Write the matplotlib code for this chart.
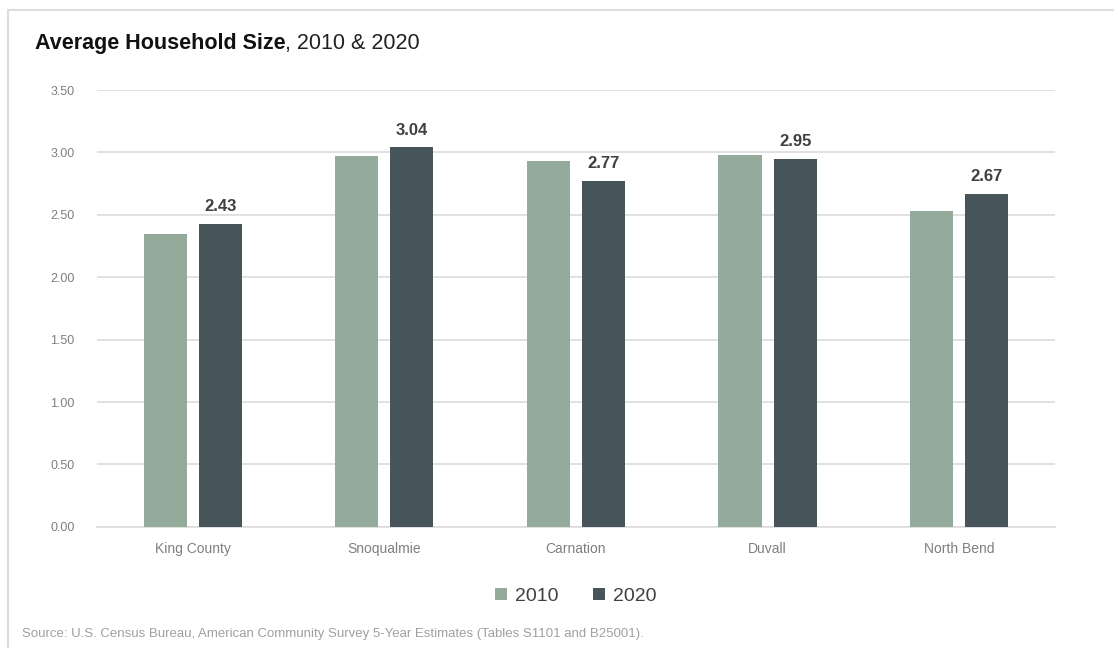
import matplotlib
matplotlib.use("Agg")
import matplotlib.pyplot as plt
import numpy as np

# data
places = ["King County", "Snoqualmie", "Carnation", "Duvall", "North Bend"]
size_2010 = [2.35, 2.97, 2.93, 2.98, 2.53]
size_2020 = [2.43, 3.04, 2.77, 2.95, 2.67]
series_names = ["2010", "2020"]
yticks = [0.0, 0.5, 1.0, 1.5, 2.0, 2.5, 3.0, 3.5]

C2010 = "#94AA9B"
C2020 = "#47555B"
GRID = "#DCDCDC"
TICK = "#7F7F7F"

plt.rcParams["font.family"] = ["Liberation Sans", "DejaVu Sans"]

fig = plt.figure(figsize=(11.14, 6.48), dpi=100)
ax = fig.add_axes([0.087, 0.187, 0.86, 0.674])

x = np.arange(len(places))
w = 0.225
off = 0.144
ax.bar(x - off, size_2010, width=w, color=C2010, label=series_names[0], zorder=3)
b2 = ax.bar(x + off, size_2020, width=w, color=C2020, label=series_names[1], zorder=3)

# value labels only on the 2020 bars
for rect, v in zip(b2, size_2020):
    ax.annotate(f"{v:.2f}", (rect.get_x() + rect.get_width() / 2, v),
                textcoords="offset points", xytext=(0, 7), ha="center", va="bottom",
                fontsize=12, fontweight="bold", color="#404040")

ax.set_xlim(-0.5, len(places) - 0.5)
ax.set_ylim(0, 3.5)
ax.set_yticks(yticks)
ax.set_yticklabels([f"{t:.2f}" for t in yticks], fontsize=9, color=TICK)
ax.set_xticks(x)
ax.set_xticklabels(places, fontsize=10, color=TICK)
ax.tick_params(length=0, pad=11)
ax.tick_params(axis="y", pad=16)
ax.grid(axis="y", color=GRID, linewidth=1.2, zorder=0)
ax.set_axisbelow(True)
for s in ["top", "right", "left"]:
    ax.spines[s].set_visible(False)
ax.spines["bottom"].set_color(GRID)
ax.spines["bottom"].set_linewidth(1.2)

ax.legend(loc="upper center", bbox_to_anchor=(0.5, -0.1), ncol=2, frameon=False,
          fontsize=14, handlelength=0.6, handleheight=0.6, handletextpad=0.4,
          columnspacing=1.8, labelcolor="#404040")

# title: bold part + regular part
t1 = fig.text(0.031, 0.925, "Average Household Size", fontsize=15.5, fontweight="bold",
              color="#111111")
fig.canvas.draw()
bb = t1.get_window_extent()
fig.text(bb.x1 / fig.bbox.width, 0.925, ", 2010 & 2020", fontsize=15.5, color="#222222")

fig.text(0.02, 0.017, "Source: U.S. Census Bureau, American Community Survey 5-Year Estimates (Tables S1101 and B25001).",
         fontsize=9.5, color="#A0A0A0")

# page frame lines (top and left)
fig.add_artist(plt.Line2D([0.007, 1.0], [0.985, 0.985], color="#DDDDDD", linewidth=1.5,
                          transform=fig.transFigure))
fig.add_artist(plt.Line2D([0.007, 0.007], [0.0, 0.985], color="#DDDDDD", linewidth=1.5,
                          transform=fig.transFigure))

fig.savefig("out.png", dpi=100, facecolor="white")
